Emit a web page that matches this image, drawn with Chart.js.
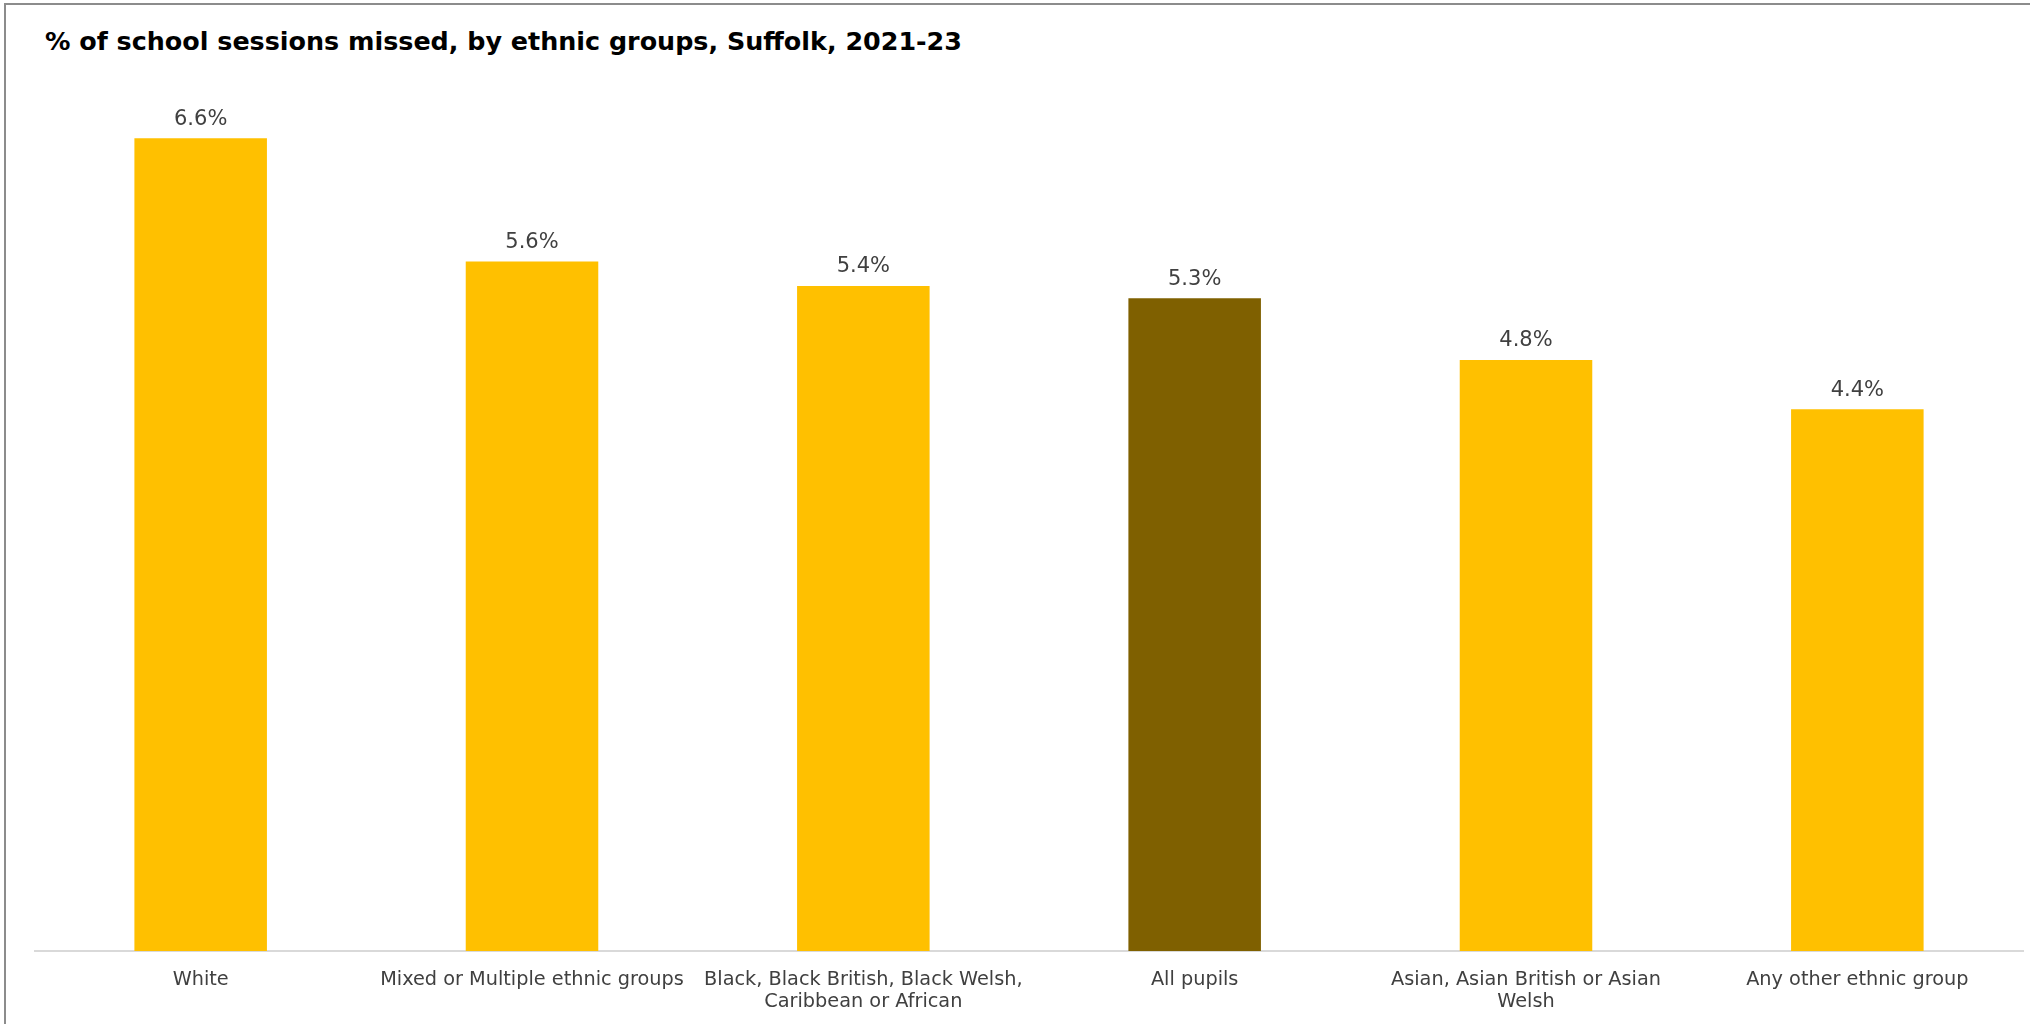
<!DOCTYPE html>
<html>
<head>
<meta charset="utf-8">
<script src="https://cdn.jsdelivr.net/npm/chart.js@4/dist/chart.umd.min.js"></script>
<style>
  html, body { margin: 0; padding: 0; background: #ffffff; }
  #wrap { position: relative; width: 2030px; height: 1024px; overflow: hidden; }
  #frame { position: absolute; left: 4px; top: 3px; width: 2040px; height: 1040px;
           border-left: 2px solid #8c8c8c; border-top: 2px solid #8c8c8c; box-sizing: border-box; }
  #title { position: absolute; left: 45px; top: 26px; margin: 0; line-height: 30px;
           font-family: "DejaVu Sans", Verdana, sans-serif; font-weight: bold; font-size: 25.4px;
           color: #000000; white-space: nowrap; }
  canvas { position: absolute; left: 0; top: 0; }
</style>
</head>
<body>
<div id="wrap">
  <div id="frame"></div>
  <h1 id="title">% of school sessions missed, by ethnic groups, Suffolk, 2021-23</h1>
  <canvas id="chart" width="2030" height="1024"></canvas>
</div>
<script>
// Pupil ethnic groups and share of school sessions missed (%)
const categories = [
  "White",
  "Mixed or Multiple ethnic groups",
  ["Black, Black British, Black Welsh,", "Caribbean or African"],
  "All pupils",
  ["Asian, Asian British or Asian", "Welsh"],
  "Any other ethnic group"
];
const sessionsMissed = [6.6, 5.6, 5.4, 5.3, 4.8, 4.4];
const valueLabels = ["6.6%", "5.6%", "5.4%", "5.3%", "4.8%", "4.4%"];

// The overall figure is shown in a darker shade
const groupColour = "#FFC000";
const totalColour = "#7F6000";
const barColours = categories.map(c => (c === "All pupils" ? totalColour : groupColour));

// Writes each bar's value just above it
const valueLabelPlugin = {
  id: "valueLabels",
  afterDatasetsDraw(chart) {
    const ctx = chart.ctx;
    const meta = chart.getDatasetMeta(0);
    ctx.save();
    ctx.font = '21px "DejaVu Sans", Verdana, sans-serif';
    ctx.fillStyle = "#404040";
    ctx.textAlign = "center";
    ctx.textBaseline = "middle";
    meta.data.forEach((bar, i) => {
      const y = chart.scales.y.getPixelForValue(sessionsMissed[i]);
      ctx.fillText(valueLabels[i], bar.x, y - 19);
    });
    ctx.restore();
  }
};

new Chart(document.getElementById("chart"), {
  type: "bar",
  data: {
    labels: categories,
    datasets: [{
      data: sessionsMissed,
      backgroundColor: barColours,
      borderWidth: 0,
      categoryPercentage: 1.0,
      barPercentage: 0.4
    }]
  },
  options: {
    responsive: false,
    animation: false,
    devicePixelRatio: 1,
    layout: { padding: { left: 35, right: 7, top: 89, bottom: 0 } },
    plugins: {
      legend: { display: false },
      title: { display: false },
      tooltip: { enabled: false }
    },
    scales: {
      x: {
        grid: { display: false, drawTicks: false },
        border: { display: true, color: "#D9D9D9", width: 2 },
        ticks: {
          color: "#404040",
          font: { family: '"DejaVu Sans", Verdana, sans-serif', size: 19.3, lineHeight: 1.15 },
          padding: 18,
          maxRotation: 0,
          minRotation: 0,
          autoSkip: false
        },
        afterFit(scale) { scale.height = 73; }
      },
      y: {
        display: false,
        min: 0,
        max: 7
      }
    }
  },
  plugins: [valueLabelPlugin]
});
</script>
</body>
</html>
